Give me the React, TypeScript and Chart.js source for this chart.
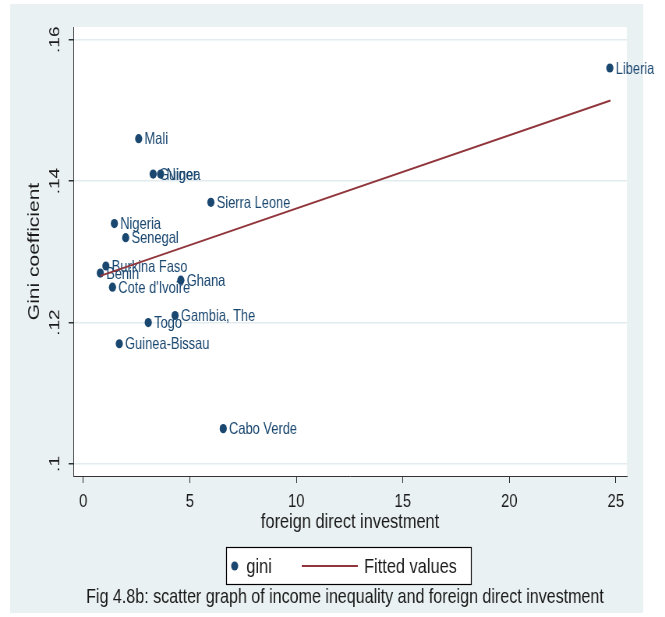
import React, { useEffect, useRef } from "react";
import { Chart, registerables } from "chart.js";

Chart.register(...registerables);

// Country observations: FDI (x) against Gini coefficient (y)
const countries = [
  "Liberia", "Mali", "Guinea", "Niger", "Sierra Leone", "Nigeria", "Senegal",
  "Burkina Faso", "Benin", "Cote d'Ivoire", "Ghana", "Gambia, The", "Togo",
  "Guinea-Bissau", "Cabo Verde",
];
const fdi = [24.72, 2.6, 3.28, 3.63, 5.99, 1.46, 1.99, 1.06, 0.8, 1.37, 4.58, 4.31, 3.05, 1.69, 6.57];
const gini = [0.156, 0.146, 0.141, 0.141, 0.137, 0.134, 0.132, 0.128, 0.127, 0.125, 0.126, 0.121, 0.12, 0.117, 0.105];

// Linear fit line end points
const fitX = [0.8, 24.75];
const fitY = [0.1266, 0.1514];

const xTicks = [0, 5, 10, 15, 20, 25];
const xTickLabels = ["0", "5", "10", "15", "20", "25"];
const yTicks = [0.1, 0.12, 0.14, 0.16];
const yTickLabels = [".1", ".12", ".14", ".16"];

const W = 853;
const H = 617;
const FONT = "'Liberation Sans', Arial, Helvetica, sans-serif";
const NAVY = "#1a476f";
const MAROON = "#90353b";
const BG = "#eaf1f3";
const GRID = "#e2ecef";
const AXIS = "#333333";
const TEXT = "#1a1a1a";

const framePlugin = {
  id: "frame",
  beforeDraw(chart: any) {
    const { ctx, width, height, chartArea } = chart;
    ctx.save();
    ctx.fillStyle = "#ffffff";
    ctx.fillRect(0, 0, width, height);
    ctx.fillStyle = BG;
    ctx.fillRect(13, 4, 812, 609);
    ctx.fillStyle = "#ffffff";
    ctx.fillRect(
      chartArea.left,
      chartArea.top,
      chartArea.right - chartArea.left,
      chartArea.bottom - chartArea.top
    );
    ctx.restore();
  },
};

const markerLabelPlugin = {
  id: "markerLabels",
  afterDatasetDraw(chart: any, args: any) {
    if (args.index !== 0) return;
    const { ctx } = chart;
    const meta = chart.getDatasetMeta(0);
    ctx.save();
    ctx.font = `16.5px ${FONT}`;
    ctx.fillStyle = NAVY;
    ctx.textAlign = "left";
    ctx.textBaseline = "middle";
    meta.data.forEach((pt: any, i: number) => {
      ctx.fillText(countries[i], pt.x + 7.5, pt.y + 1);
    });
    ctx.restore();
  },
};

const legendCaptionPlugin = {
  id: "legendCaption",
  afterDraw(chart: any) {
    const { ctx } = chart;
    ctx.save();
    // legend box
    ctx.fillStyle = "#ffffff";
    ctx.fillRect(290, 547, 314, 37);
    ctx.strokeStyle = "#000000";
    ctx.lineWidth = 1.2;
    ctx.strokeRect(290.5, 547.5, 314, 37);
    // gini marker
    ctx.fillStyle = NAVY;
    ctx.beginPath();
    ctx.arc(301, 566, 4.5, 0, Math.PI * 2);
    ctx.fill();
    ctx.font = `21px ${FONT}`;
    ctx.fillStyle = TEXT;
    ctx.textBaseline = "middle";
    ctx.textAlign = "left";
    ctx.fillText("gini", 316, 567);
    // fitted line sample
    ctx.strokeStyle = MAROON;
    ctx.lineWidth = 2;
    ctx.beginPath();
    ctx.moveTo(387, 566);
    ctx.lineTo(459, 566);
    ctx.stroke();
    ctx.fillText("Fitted values", 467, 567);
    // caption
    ctx.font = `20.6px ${FONT}`;
    ctx.textAlign = "center";
    ctx.fillText(
      "Fig 4.8b: scatter graph of income inequality and foreign direct investment",
      442.5,
      597
    );
    ctx.restore();
  },
};

export default function App() {
  const canvasRef = useRef<HTMLCanvasElement | null>(null);

  useEffect(() => {
    const canvas = canvasRef.current;
    if (!canvas) return;
    const chart = new Chart(canvas, {
      type: "scatter",
      data: {
        datasets: [
          {
            type: "scatter",
            label: "gini",
            data: fdi.map((x, i) => ({ x, y: gini[i] })),
            backgroundColor: NAVY,
            borderColor: NAVY,
            pointRadius: 4.6,
            pointHoverRadius: 4.6,
            borderWidth: 0,
            order: 1,
          },
          {
            type: "line",
            label: "Fitted values",
            data: fitX.map((x, i) => ({ x, y: fitY[i] })),
            borderColor: MAROON,
            backgroundColor: MAROON,
            borderWidth: 2,
            pointRadius: 0,
            showLine: true,
            fill: false,
            order: 0,
          },
        ],
      },
      options: {
        responsive: false,
        animation: false,
        devicePixelRatio: 1,
        layout: { padding: { left: 13, right: 49, top: 27, bottom: 81 } },
        plugins: {
          legend: { display: false },
          tooltip: { enabled: false },
        },
        scales: {
          x: {
            type: "linear",
            position: "bottom",
            min: -0.469,
            max: 25.516,
            afterBuildTicks: (scale: any) => {
              scale.ticks = xTicks.map((v) => ({ value: v }));
            },
            afterFit: (scale: any) => {
              scale.height = 60;
            },
            grid: {
              display: true,
              drawOnChartArea: false,
              drawTicks: true,
              tickLength: 7,
              tickColor: AXIS,
              color: AXIS,
            },
            border: { display: true, color: AXIS, width: 1 },
            ticks: {
              padding: 7,
              maxRotation: 0,
              minRotation: 0,
              color: TEXT,
              font: { family: FONT, size: 19 },
              callback: (_v: any, i: number) => xTickLabels[i],
            },
            title: {
              display: true,
              text: "foreign direct investment",
              color: TEXT,
              font: { family: FONT, size: 21 },
              padding: { top: 1, bottom: 1 },
            },
          },
          y: {
            type: "linear",
            position: "left",
            min: 0.0983,
            max: 0.1618,
            afterBuildTicks: (scale: any) => {
              scale.ticks = yTicks.map((v) => ({ value: v }));
            },
            afterFit: (scale: any) => {
              scale.width = 81;
            },
            grid: {
              display: true,
              drawOnChartArea: true,
              drawTicks: true,
              tickLength: 6,
              tickColor: AXIS,
              color: GRID,
              lineWidth: 1.5,
            },
            border: { display: true, color: AXIS, width: 1 },
            ticks: {
              padding: 4,
              minRotation: 90,
              maxRotation: 90,
              crossAlign: "center",
              color: TEXT,
              font: { family: FONT, size: 19 },
              callback: (_v: any, i: number) => yTickLabels[i],
            },
            title: {
              display: true,
              text: "Gini coefficient",
              color: TEXT,
              font: { family: FONT, size: 21 },
              padding: { top: 19, bottom: 19 },
            },
          },
        },
      },
      plugins: [framePlugin, markerLabelPlugin, legendCaptionPlugin],
    } as any);
    return () => chart.destroy();
  }, []);

  return (
    <canvas
      ref={canvasRef}
      width={W}
      height={H}
      style={{
        position: "absolute",
        left: 0,
        top: 0,
        width: "665px",
        height: "617px",
      }}
    />
  );
}
